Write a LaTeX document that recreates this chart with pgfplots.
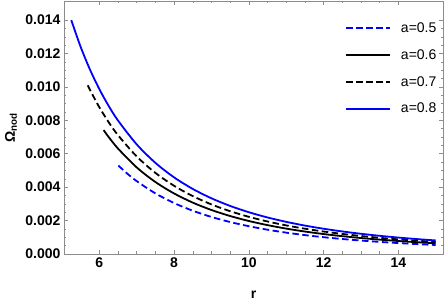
\documentclass[border=0pt]{standalone}
\usepackage{fontspec}
\setmainfont{Liberation Sans}
\usepackage{pgfplots}
\pgfplotsset{compat=1.18}
\definecolor{mblue}{rgb}{0,0,1}
\definecolor{framegray}{gray}{0.55}
\begin{document}
\begin{tikzpicture}
\path[use as bounding box] (-64bp,-51bp) rectangle (383bp,254bp);
\begin{axis}[
  scale only axis, width=379bp, height=253bp,
  at={(0,0)}, anchor=south west,
  xmin=5.055, xmax=15.195, ymin=0, ymax=0.01514,
  clip=false,
  axis line style={framegray, line width=0.6bp},
  xtick={6,8,10,12,14}, xticklabels={6,8,10,12,14},
  ytick={0,0.002,0.004,0.006,0.008,0.010,0.012,0.014},
  yticklabels={0.000,0.002,0.004,0.006,0.008,0.010,0.012,0.014},
  scaled y ticks=false,
  minor x tick num=3, minor y tick num=3,
  tick style={framegray, line width=0.5bp},
  major tick length=4bp, minor tick length=2.5bp,
  tick align=inside,
  ticklabel style={font=\fontsize{14bp}{16bp}\selectfont\bfseries, text=black},
  xlabel={\bfseries r},
  ylabel={\bfseries Ω\textsubscript{nod}},
  label style={font=\fontsize{14bp}{16bp}\selectfont},
  xlabel style={at={(axis description cs:0.5,-0.162)}, anchor=center},
  ylabel style={at={(axis description cs:-0.1398,0.5)}, anchor=center},
  legend cell align=left,
  legend style={draw=none, fill=none, font=\fontsize{14bp}{16bp}\selectfont,
    at={(rel axis cs:0.7414,0.915)}, anchor=north west, inner sep=0pt,
    nodes={inner sep=0pt}, row sep=15.5bp,
    /tikz/every odd column/.append style={column sep=10bp}},
  legend image code/.code={\draw[#1] (0bp,0bp) -- (44bp,0bp);},
]
\addplot[mblue, line width=1.8bp, dash pattern=on 6.5bp off 3.5bp, smooth] coordinates {
(6.51,0.005291) (6.75,0.004806) (7,0.004362) (7.5,0.003628) (8,0.003050) (8.5,0.002589)
(9,0.002216) (9.5,0.001913) (10,0.001663) (10.5,0.001454) (11,0.001279) (11.5,0.001131)
(12,0.001005) (12.5,0.000898) (13,0.000805) (13.5,0.000724) (14,0.000654) (14.5,0.000593) (15,0.000539)};
\addlegendentry{a=0.5}
\addplot[black, line width=1.8bp, smooth] coordinates {
(6.115,0.007416) (6.25,0.007001) (6.5,0.006311) (7,0.005182) (7.5,0.004309) (8,0.003623) (8.5,0.003075)
(9,0.002633) (9.5,0.002273) (10,0.001975) (10.5,0.001728) (11,0.001520) (11.5,0.001344)
(12,0.001194) (12.5,0.001067) (13,0.000956) (13.5,0.000860) (14,0.000777) (14.5,0.000705) (15,0.000641)};
\addlegendentry{a=0.6}
\addplot[black, line width=1.8bp, dash pattern=on 6.5bp off 3.5bp, smooth] coordinates {
(5.69,0.010095) (5.75,0.009822) (6,0.008783) (6.25,0.007887) (6.5,0.007109) (7,0.005838) (7.5,0.004855) (8,0.004082) (8.5,0.003465)
(9,0.002966) (9.5,0.002561) (10,0.002225) (10.5,0.001946) (11,0.001712) (11.5,0.001514)
(12,0.001346) (12.5,0.001202) (13,0.001077) (13.5,0.000969) (14,0.000876) (14.5,0.000794) (15,0.000722)};
\addlegendentry{a=0.7}
\addplot[mblue, line width=1.8bp, smooth] coordinates {
(5.25,0.013994) (5.5,0.012397) (5.75,0.011036) (6,0.009868) (6.25,0.008862) (6.5,0.007988) (7,0.006560) (7.5,0.005455) (8,0.004586) (8.5,0.003893)
(9,0.003333) (9.5,0.002877) (10,0.002500) (10.5,0.002187) (11,0.001924) (11.5,0.001701)
(12,0.001512) (12.5,0.001350) (13,0.001210) (13.5,0.001089) (14,0.000984) (14.5,0.000892) (15,0.000811)};
\addlegendentry{a=0.8}
\end{axis}
\end{tikzpicture}
\end{document}
